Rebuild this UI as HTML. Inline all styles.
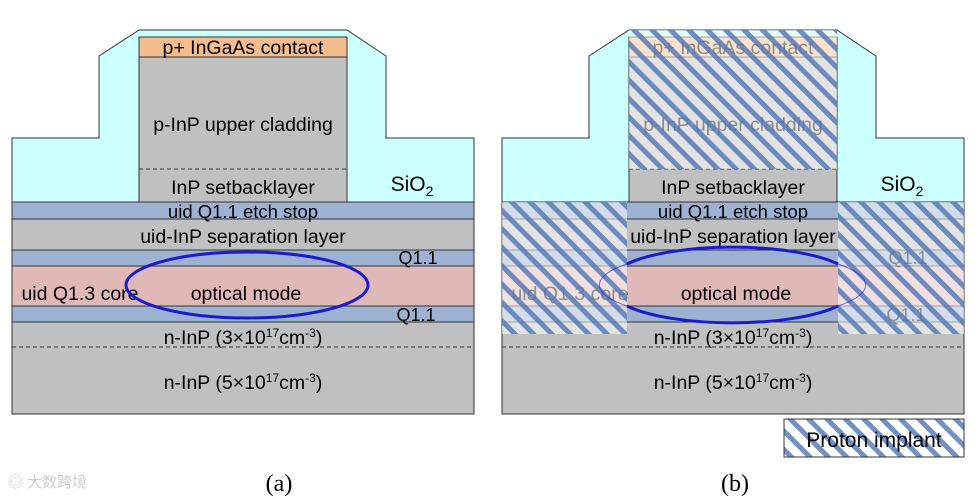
<!DOCTYPE html>
<html><head><meta charset="utf-8"><style>
body{margin:0;background:#fff;}
svg{display:block;font-family:"Liberation Sans",sans-serif;}
</style></head><body>
<svg width="976" height="498" viewBox="0 0 976 498" xmlns="http://www.w3.org/2000/svg">
<defs>
<pattern id="h" patternUnits="userSpaceOnUse" width="13" height="13" patternTransform="rotate(-45)">
<rect width="13" height="13" fill="#fff" fill-opacity="0.55"/>
<rect x="0" y="0" width="5" height="13" fill="#4f74b4" fill-opacity="0.8"/>
</pattern>
<g id="dev">
<polygon points="12,202 12,138 99,138 99,56 139,30 347,30 386,56 386,138 474,138 474,202" fill="#ccffff" stroke="#333" stroke-width="1"/>
<rect x="139" y="37" width="208" height="20" fill="#f4bd8f" stroke="#333" stroke-width="1"/>
<rect x="139" y="57" width="208" height="145" fill="#c0c0c0" stroke="#333" stroke-width="1"/>
<line x1="139" y1="169" x2="347" y2="169" stroke="#333" stroke-dasharray="4,3"/>
<rect x="12" y="202" width="462" height="17" fill="#9db1d3" stroke="#333"/>
<rect x="12" y="219" width="462" height="31" fill="#c0c0c0" stroke="#333"/>
<rect x="12" y="250" width="462" height="16" fill="#9db1d3" stroke="#333"/>
<rect x="12" y="266" width="462" height="40" fill="#e1b8b8" stroke="#333"/>
<rect x="12" y="306" width="462" height="16" fill="#9db1d3" stroke="#333"/>
<rect x="12" y="322" width="462" height="92" fill="#c0c0c0" stroke="#333"/>
<line x1="12" y1="347" x2="474" y2="347" stroke="#333" stroke-dasharray="4,3"/>
</g>
<g id="txt" font-size="19.5" fill="#000" text-anchor="middle">
<text x="243" y="54">p+ InGaAs contact</text>
<text x="243" y="131">p-InP upper cladding</text>
<text x="243" y="194">InP setbacklayer</text>
<text x="243" y="218" font-size="18.5">uid Q1.1 etch stop</text>
<text x="243" y="243">uid-InP separation layer</text>
<text x="418" y="264" font-size="18">Q1.1</text>
<text x="80" y="300">uid Q1.3 core</text>
<text x="246" y="300">optical mode</text>
<text x="416" y="321" font-size="18">Q1.1</text>
<text x="243" y="344">n-InP (3×10<tspan font-size="12" dy="-7">17</tspan><tspan dy="7">cm</tspan><tspan font-size="12" dy="-7">-3</tspan><tspan dy="7">)</tspan></text>
<text x="243" y="389">n-InP (5×10<tspan font-size="12" dy="-7">17</tspan><tspan dy="7">cm</tspan><tspan font-size="12" dy="-7">-3</tspan><tspan dy="7">)</tspan></text>
<text x="412" y="191" font-size="21">SiO<tspan font-size="14" dy="5">2</tspan></text>
</g>
</defs>
<!-- (a) -->
<use href="#dev"/>
<use href="#txt"/>
<ellipse cx="247" cy="285" rx="121" ry="33" fill="none" stroke="#1a1ad0" stroke-width="3"/>
<!-- (b) -->
<g transform="translate(490,0)">
<use href="#dev"/>
<use href="#txt"/>
<rect x="139" y="30" width="208" height="139" fill="url(#h)"/>
<rect x="12" y="202" width="125" height="132" fill="url(#h)"/>
<rect x="348" y="202" width="126" height="132" fill="url(#h)"/>
<path d="M137,306 A121,33 0 0 1 137,264 M348,264 A121,33 0 0 1 348,306" fill="none" stroke="#1a1ad0" stroke-width="1" opacity="0.6"/>
<path d="M137,306 A121,33 0 0 0 348,306 M137,264 A121,33 0 0 1 348,264" fill="none" stroke="#1a1ad0" stroke-width="3"/>
</g>
<rect x="784" y="419" width="180" height="38" fill="url(#h)" stroke="#333"/>
<text x="874" y="447" font-size="21" text-anchor="middle">Proton implant</text>
<text x="279" y="491" font-size="24" font-family="Liberation Serif,serif" text-anchor="middle">(a)</text>
<text x="735" y="491" font-size="24" font-family="Liberation Serif,serif" text-anchor="middle">(b)</text>
<text x="8" y="487" font-size="15" fill="#cfcfcf">◎ 大数跨境</text>
</svg>
</body></html>
